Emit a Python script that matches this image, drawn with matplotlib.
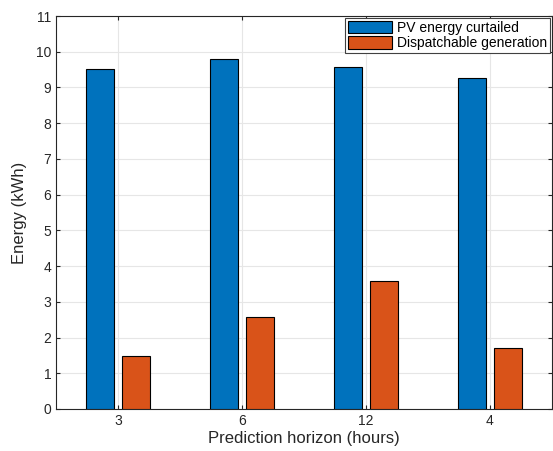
import numpy as np
from matplotlib import pyplot as plt

horizons = ['3', '6', '12', '4']
curtailed = [9.52, 9.81, 9.58, 9.27]
dispatch = [1.47, 2.57, 3.57, 1.71]

plt.rcParams['font.family'] = ['Liberation Sans', 'DejaVu Sans']

fig = plt.figure(figsize=(5.53, 4.51), dpi=100)
ax = fig.add_axes([56/553, 1 - 409/451, 496/553, 393/451])

x = np.arange(1, len(horizons) + 1)
w = 0.23
off = 0.147
ax.bar(x - off, curtailed, w, color='#0072BD', edgecolor='black', linewidth=0.8,
       label='PV energy curtailed', zorder=3)
ax.bar(x + off, dispatch, w, color='#D95319', edgecolor='black', linewidth=0.8,
       label='Dispatchable generation', zorder=3)

ax.set_xlim(0.5, 4.5)
ax.set_ylim(0, 11)
ax.set_xticks(x)
ax.set_xticklabels(horizons)
ax.set_yticks(range(0, 12))
ax.grid(True, color='#e6e6e6', linewidth=0.8, zorder=0)
ax.set_axisbelow(True)
ax.tick_params(direction='in', length=3, labelsize=10, colors='#262626',
               top=True, right=True)
for s in ax.spines.values():
    s.set_color('#262626')
    s.set_linewidth(0.8)

ax.set_xlabel('Prediction horizon (hours)', fontsize=12, color='#262626', labelpad=2)
ax.set_ylabel('Energy (kWh)', fontsize=12, color='#262626', labelpad=6)

leg = ax.legend(loc='upper right', fontsize=10, fancybox=False, framealpha=1,
                edgecolor='#404040', borderpad=0.2, labelspacing=0.1,
                handlelength=3.2, handleheight=1.0, handletextpad=0.35,
                borderaxespad=0.15)
leg.get_frame().set_linewidth(0.8)

fig.savefig('out.png', dpi=100)
